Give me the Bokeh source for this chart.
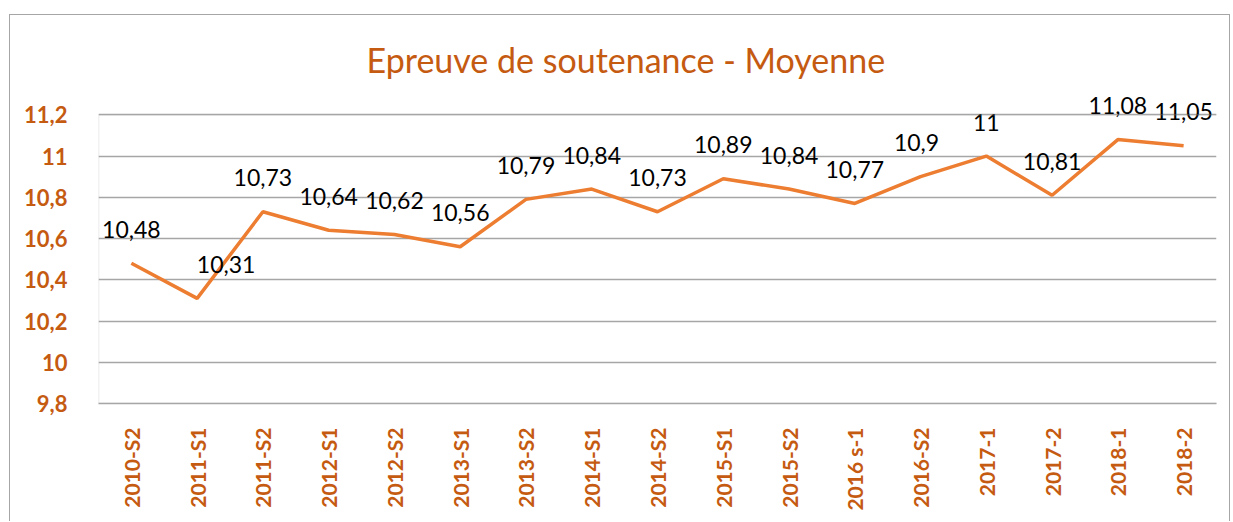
from bokeh.plotting import figure
from bokeh.models import (ColumnDataSource, FactorRange, Range1d, LabelSet,
                          CustomJSTickFormatter, FixedTicker, BoxAnnotation)
from bokeh.core.properties import value
from bokeh.embed import file_html
from bokeh.resources import INLINE
import math

categories = ["2010-S2", "2011-S1", "2011-S2", "2012-S1", "2012-S2", "2013-S1",
              "2013-S2", "2014-S1", "2014-S2", "2015-S1", "2015-S2", "2016 s-1",
              "2016-S2", "2017-1", "2017-2", "2018-1", "2018-2"]
values = [10.48, 10.31, 10.73, 10.64, 10.62, 10.56, 10.79, 10.84, 10.73, 10.89,
          10.84, 10.77, 10.9, 11.0, 10.81, 11.08, 11.05]
value_labels = ["10,48", "10,31", "10,73", "10,64", "10,62", "10,56", "10,79", "10,84",
                "10,73", "10,89", "10,84", "10,77", "10,9", "11", "10,81", "11,08", "11,05"]
y_ticks = [9.8, 10.0, 10.2, 10.4, 10.6, 10.8, 11.0, 11.2]

# label placement (styling only)
label_dx = [0, 29, 0, 0, 0, 0, 0, 0, 0, 0, 0, 0, -4, 0, 0, 0, 0]

ORANGE = "#ED7D31"
DARK_ORANGE = "#C55A11"
GRID = "#A6A6A6"
FONT = "Lato"

src = ColumnDataSource(dict(x=categories, y=values, t=value_labels, dx=label_dx))

p = figure(width=1221, height=507, output_backend="svg", toolbar_location=None,
           x_range=FactorRange(*categories, range_padding=0),
           y_range=Range1d(9.8, 11.318),
           min_border_left=88, min_border_right=15, min_border_top=75, min_border_bottom=119,
           title="Epreuve de soutenance - Moyenne")

p.margin = (14, 0, 0, 9)
p.styles = {"border-top": "1px solid #A6A6A6", "border-left": "1px solid #A6A6A6",
            "border-right": "1px solid #A6A6A6"}

p.outline_line_color = None
p.background_fill_color = "white"
p.border_fill_color = "white"

p.title.align = "left"
p.title.offset = 268
p.title.text_font = FONT
p.title.text_font_style = "normal"
p.title.text_font_size = "34px"
p.title.text_color = DARK_ORANGE
p.title.standoff = 22

p.line("x", "y", source=src, line_color=ORANGE, line_width=3.5)

labels = LabelSet(x="x", y="y", text="t", source=src, x_offset="dx", y_offset=34,
                  text_align="center", text_baseline="middle",
                  text_font=value(FONT), text_font_size="23px", text_color="black")
p.add_layout(labels)

# y axis
p.yaxis.ticker = FixedTicker(ticks=y_ticks)
p.yaxis.formatter = CustomJSTickFormatter(
    code="return String(Number(tick.toFixed(1))).replace('.', ',');")
p.yaxis.major_label_text_font = FONT
p.yaxis.major_label_text_font_style = "bold"
p.yaxis.major_label_text_font_size = "22px"
p.yaxis.major_label_text_color = DARK_ORANGE
p.yaxis.major_label_standoff = 25
p.yaxis.major_tick_line_color = None
p.yaxis.minor_tick_line_color = None
p.yaxis.axis_line_color = None

# plot-area left edge (only up to the top tick)
edge = BoxAnnotation(left=0, right=len(categories) + 1, bottom=9.8, top=y_ticks[-1],
                     fill_alpha=0, line_color=GRID, line_width=1.5)
p.add_layout(edge)

# x axis
p.xaxis.major_label_orientation = math.pi / 2
p.xaxis.major_label_text_font = FONT
p.xaxis.major_label_text_font_style = "bold"
p.xaxis.major_label_text_font_size = "21px"
p.xaxis.major_label_text_color = DARK_ORANGE
p.xaxis.major_label_standoff = 18
p.xaxis.major_tick_line_color = None
p.xaxis.axis_line_color = GRID
p.xaxis.axis_line_width = 1.5

p.xgrid.grid_line_color = None
p.ygrid.grid_line_color = GRID
p.ygrid.grid_line_width = 1.5

open("out.html", "w").write(file_html(p, INLINE))
